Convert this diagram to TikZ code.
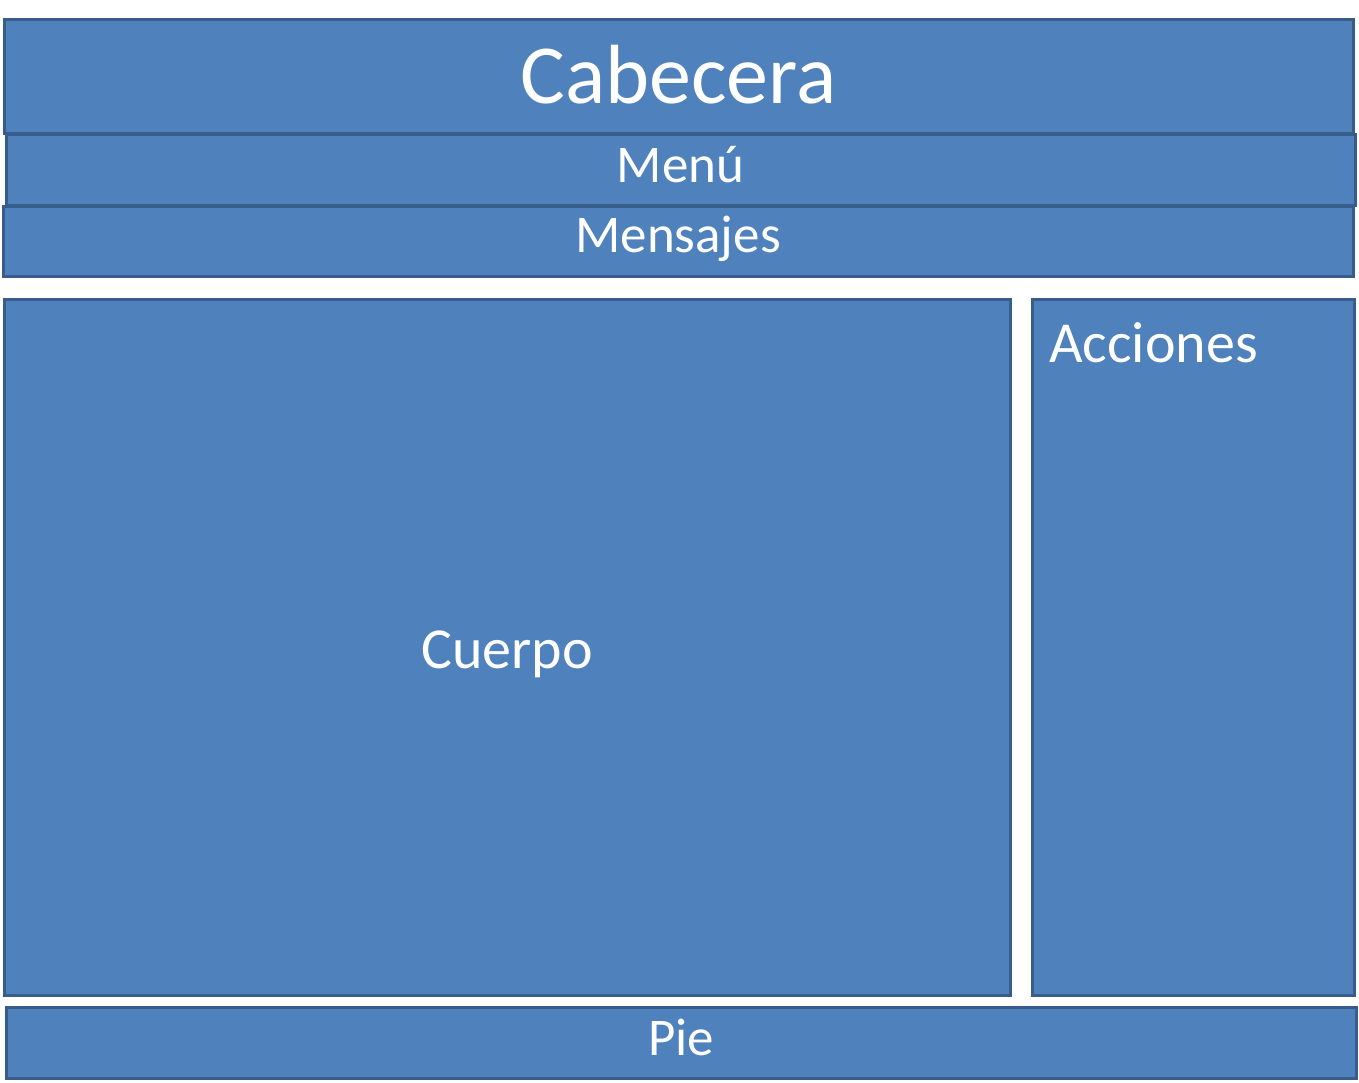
\documentclass[tikz,border=0pt]{standalone}
\usepackage{fontspec}
\setmainfont{Carlito}
\usepackage{xcolor}
\usetikzlibrary{positioning, calc}

\definecolor{cajaazul}{HTML}{4F81BD}
\definecolor{bordeazul}{HTML}{385D8A}

\begin{document}
\begin{tikzpicture}[x=1pt, y=-1pt,
    caja/.style={draw=bordeazul, fill=cajaazul, line width=3pt, rectangle,
      inner sep=0pt, outer sep=0pt, text=white, text height=34pt, text depth=0pt,
      font=\fontsize{53}{60}\selectfont}]
      \useasboundingbox (0,0) rectangle (1359,1082);

      % Cabecera, menu y mensajes
      \node[caja, minimum width=1349, minimum height=114, text height=54pt,
        font=\fontsize{84}{100}\selectfont] (cabecera) at (678.5,76) {Cabecera};
      \node[caja, minimum width=1349, minimum height=71, text depth=9pt] (menu) at (680.5,169.5) {Menú};
      \node[caja, minimum width=1350, minimum height=70, text depth=12pt] (mensajes) at (678,241) {Mensajes};

      % Cuerpo y acciones
      \node[caja, minimum width=1006, minimum height=696, text height=43pt,
        font=\fontsize{58}{66}\selectfont] (cuerpo) at (507,647) {Cuerpo};
      \node[caja, minimum width=322, minimum height=696] (acciones) at (1193,647) {};
      \node[text=white, anchor=base west, inner sep=0pt, font=\fontsize{58}{66}\selectfont]
        (accionestxt) at ($(acciones.north west)+(17,63)$) {Acciones};

      % Pie
      \node[caja, minimum width=1350, minimum height=71, text depth=8pt] (pie) at (681,1042.5) {Pie};
    \end{tikzpicture}
\end{document}
